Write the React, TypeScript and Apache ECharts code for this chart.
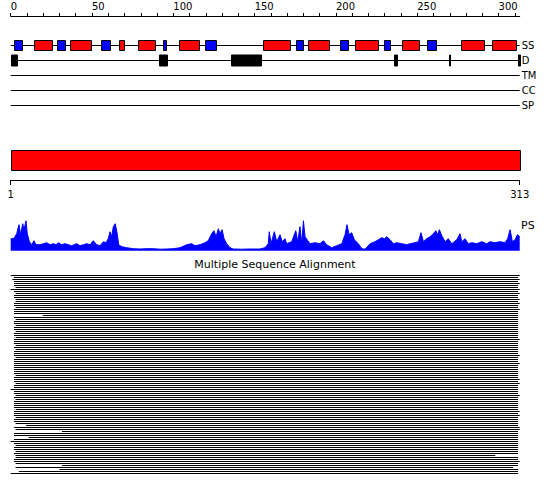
import React, { useEffect, useRef } from 'react';
import * as echarts from 'echarts';

const SEQ_LEN = 313;
const rulerTicks = [0, 10, 20, 30, 40, 50, 60, 70, 80, 90, 100, 110, 120, 130, 140, 150, 160, 170, 180, 190, 200, 210, 220, 230, 240, 250, 260, 270, 280, 290, 300, 310];
const rulerLabels = [0, 50, 100, 150, 200, 250, 300];
const rangeTicks = [1, 313];
const trackNames = ['SS', 'D', 'TM', 'CC', 'SP'];

// secondary structure (residue ranges)
const helices = [[14.5, 25.6], [36.7, 49.6], [66.8, 69.9], [78.5, 88.9], [103.5, 116], [155, 172], [183, 196], [212, 226], [240.8, 251], [277, 291.3], [296.2, 310.7]];
const strands = [[2, 7], [28.7, 33.6], [55.7, 60.9], [93.9, 95.7], [119.5, 126], [175.6, 180], [202.7, 207.3], [229.4, 233.1], [256.2, 261.4]];
// disordered regions
const disordered = [[0, 3.7], [91.4, 96], [135.5, 153.8], [236, 237.8], [269.3, 269.6], [312, 313.3]];
// domain bar
const domains = [[1, 313]];

// PS profile [residue, score]
const psProfile = [
  [0, 12], [1.6, 12], [2.6, 14], [3.7, 17], [5.1, 26], [6.1, 16], [7.4, 27], [8.2, 21], [9.4, 30], [10.2, 17], [11.5, 9], [12.9, 6], [14.3, 10], [15.6, 6], [18, 6], [20, 7], [22.1, 8], [24.2, 6], [26.2, 7], [27.9, 6], [29.3, 8], [31.4, 6], [33.4, 7], [35.4, 6], [37.5, 5], [40.6, 7], [42.6, 5], [44.7, 6], [46.7, 7], [48.8, 6], [50.8, 10], [52.9, 6], [54.9, 5], [57, 9], [58.6, 8], [60, 12], [61.1, 19], [62.1, 14], [63.1, 24], [64.3, 27], [65.6, 16], [66.4, 6], [68.3, 4], [71.3, 3], [75.4, 2], [79.5, 1.7], [83, 2], [87.7, 2], [92, 1.5], [95.9, 1.7], [100, 2], [104.1, 3], [108.2, 6], [111.3, 7], [113.3, 5], [116.4, 6], [119.5, 8], [121.5, 10], [123.6, 17], [125, 20], [126.3, 14], [127.7, 22], [128.7, 17], [130, 21], [131.2, 12], [132.8, 7], [134.9, 3], [136.9, 1.7], [142, 1.5], [147.2, 1.7], [153.3, 1.7], [156.4, 3], [158.4, 7], [159, 19], [160.1, 7], [162.1, 19], [163.6, 9], [165.6, 16], [167, 9], [168.7, 12], [169.7, 7], [171.2, 8], [172.8, 9], [175.3, 20], [176.5, 9], [177.9, 24], [179, 7], [180, 30], [181, 14], [182.7, 10], [184.1, 7], [187.1, 8], [190.2, 7], [192.3, 10], [194.3, 6], [197.4, 3], [200.5, 5], [203.6, 7], [205.6, 16], [206.8, 26], [208.1, 16], [209.7, 18], [211.3, 11], [213.8, 7], [215.9, 2], [217.9, 1.5], [221, 7], [224, 9], [226.1, 11], [228.2, 13], [229.8, 12], [231.2, 14], [233.3, 11], [235.3, 7], [237.4, 8], [240.5, 7], [243.5, 6], [245.6, 7], [248.6, 8], [250.7, 9], [252.3, 18], [253.8, 9], [255.8, 12], [257.9, 14], [259.9, 17], [261.4, 20], [262.6, 16], [263.6, 21], [265.1, 15], [267.1, 9], [269.1, 12], [271.2, 7], [274.3, 11], [276.3, 17], [277.4, 9], [279.4, 12], [281.4, 7], [283.5, 8], [286.6, 7], [289.7, 9], [292.7, 7], [294.8, 9], [297.8, 8], [300.9, 9], [304, 8], [305.6, 12], [307.1, 21], [308.5, 9], [310.2, 11], [311.6, 16], [313, 14]
];

// multiple sequence alignment rows: start / end residue
const msaStart = [
  0, 2, 1, 2, 2, 2, 3, 0, 2, 3,
  2, 2, 3, 3, 2, 2, 3, 2, 2, 2,
  19.7, 2, 3, 2, 2, 3, 2, 2, 3, 2,
  2, 3, 2, 2, 2, 3, 2, 3, 2, 2,
  2, 3, 2, 2, 2, 2, 2, 2, 2, 2,
  3, 2, 2, 2, 3, 2, 2, 0, 2, 2,
  3, 2, 3, 2, 2, 2, 2, 3, 2, 2,
  2, 3, 2, 2, 3, 9.5, 2, 3, 31.5, 2,
  2, 11, 2, 0, 2, 3, 2, 2, 3, 2,
  3, 3, 2, 2, 3, 31.5, 3, 30, 5, 0
];
const msaEnd = [
  313, 312, 313, 312, 313, 312, 312, 313, 312, 313,
  312, 312, 313, 312, 313, 312, 312, 313, 312, 312,
  312, 312, 312, 312, 312, 312, 312, 312, 312, 312,
  312, 312, 313, 312, 312, 312, 312, 312, 312, 312,
  313, 312, 312, 312, 313, 312, 312, 312, 312, 312,
  312, 312, 313, 312, 313, 312, 312, 312, 312, 312,
  313, 312, 312, 312, 312, 312, 312, 312, 313, 312,
  313, 312, 312, 312, 312, 312, 313, 313, 312, 312,
  312, 312, 312, 312, 312, 312, 312, 312, 312, 312,
  298, 312, 312, 313, 312, 312, 309, 312, 312, 312
];

const FONT = 'DejaVu Sans';
const L = 10.7;
const W = 509;

function crisp(v: number) {
  return Math.round(v) + 0.5;
}

export default function App() {
  const ref = useRef<HTMLDivElement>(null);

  useEffect(() => {
    if (!ref.current) return;
    const chart = echarts.init(ref.current, null, { renderer: 'svg' });

    const boxRender = (h: number) => (params: any, api: any) => {
      const a = api.coord([api.value(0), api.value(2)]);
      const b = api.coord([api.value(1), api.value(2)]);
      const cy = Math.floor(a[1]) + 0.5;
      const x0 = crisp(a[0]);
      const x1 = Math.max(crisp(b[0]), x0 + 1);
      const kind = api.value(3);
      const fill = kind === 0 ? '#ff0000' : kind === 1 ? '#0000ff' : '#000000';
      return {
        type: 'rect',
        shape: { x: x0, y: cy - h / 2, width: x1 - x0, height: h },
        style: { fill, stroke: '#000', lineWidth: 1 },
      };
    };

    const option: any = {
      animation: false,
      title: {
        text: 'Multiple Sequence Alignment',
        left: 'center',
        top: 259,
        padding: 0,
        textStyle: { fontSize: 11, fontWeight: 'normal', fontFamily: FONT, color: '#000' },
      },
      graphic: [
        {
          type: 'text',
          left: 521,
          top: 219.5,
          style: { text: 'PS', font: '11px "DejaVu Sans"', fill: '#000' },
        },
      ],
      grid: [
        { left: L, width: W, top: 15, height: 1 },
        { left: L, width: W, top: 37.5, height: 75 },
        { left: L, width: W, top: 150, height: 30 },
        { left: L, width: W, top: 220.7, height: 30 },
        { left: L, width: W, top: 275, height: 200 },
      ],
      xAxis: [
        {
          gridIndex: 0, type: 'value', position: 'top', min: 0, max: SEQ_LEN,
          axisLine: { show: true, lineStyle: { color: '#000', width: 1 } },
          axisTick: { show: true, customValues: rulerTicks, length: 3, lineStyle: { color: '#000' } },
          axisLabel: { show: true, customValues: rulerLabels, align: 'left', margin: 4, fontSize: 10, fontFamily: FONT, color: '#000' },
          splitLine: { show: false },
        },
        { gridIndex: 1, type: 'value', min: 0, max: SEQ_LEN, show: false },
        {
          gridIndex: 2, type: 'value', position: 'bottom', min: 1, max: SEQ_LEN,
          axisLine: { show: true, lineStyle: { color: '#000', width: 1 } },
          axisTick: { show: true, customValues: rangeTicks, length: 5, lineStyle: { color: '#000' } },
          axisLabel: { show: true, customValues: rangeTicks, showMinLabel: true, showMaxLabel: true, margin: 9, fontSize: 10, fontFamily: FONT, color: '#000' },
          splitLine: { show: false },
        },
        { gridIndex: 3, type: 'value', min: 0, max: SEQ_LEN, show: false },
        { gridIndex: 4, type: 'value', min: 0, max: SEQ_LEN, show: false },
      ],
      yAxis: [
        { gridIndex: 0, type: 'value', show: false },
        {
          gridIndex: 1, type: 'category', data: trackNames, inverse: true, position: 'right',
          axisLine: { show: false }, axisTick: { show: false }, splitLine: { show: false },
          axisLabel: { margin: 2, fontSize: 10, fontFamily: FONT, color: '#000' },
        },
        { gridIndex: 2, type: 'value', min: 0, max: 3, show: false },
        { gridIndex: 3, type: 'value', min: 0, max: 30, show: false },
        { gridIndex: 4, type: 'value', min: 0, max: 100, inverse: true, show: false },
      ],
      series: [
        {
          type: 'custom',
          name: 'tracks',
          coordinateSystem: 'cartesian2d',
          xAxisIndex: 1, yAxisIndex: 1,
          encode: { x: [0, 1], y: 2 },
          data: trackNames.map((_, i) => [0, SEQ_LEN, i]),
          renderItem: (params: any, api: any) => {
            const a = api.coord([api.value(0), api.value(2)]);
            const b = api.coord([api.value(1), api.value(2)]);
            const y = Math.floor(a[1]) + 0.5;
            return {
              type: 'line',
              shape: { x1: a[0], y1: y, x2: b[0], y2: y },
              style: { stroke: '#000', lineWidth: 1 },
            };
          },
          z: 1,
        },
        {
          type: 'custom',
          name: 'SS',
          coordinateSystem: 'cartesian2d',
          xAxisIndex: 1, yAxisIndex: 1,
          encode: { x: [0, 1], y: 2 },
          data: [
            ...helices.map((h) => [h[0], h[1], 0, 0]),
            ...strands.map((s) => [s[0], s[1], 0, 1]),
          ],
          renderItem: boxRender(10),
          z: 2,
        },
        {
          type: 'custom',
          name: 'D',
          coordinateSystem: 'cartesian2d',
          xAxisIndex: 1, yAxisIndex: 1,
          encode: { x: [0, 1], y: 2 },
          data: disordered.map((d) => [d[0], d[1], 1, 2]),
          renderItem: boxRender(11),
          z: 2,
        },
        {
          type: 'custom',
          name: 'domain',
          coordinateSystem: 'cartesian2d',
          xAxisIndex: 2, yAxisIndex: 2,
          encode: { x: [0, 1] },
          data: domains.map((d) => [d[0], d[1]]),
          renderItem: (params: any, api: any) => {
            const a = api.coord([api.value(0), 3]);
            const b = api.coord([api.value(1), 1]);
            return {
              type: 'rect',
              shape: { x: crisp(a[0]), y: crisp(a[1]), width: Math.round(b[0] - a[0]), height: Math.round(b[1] - a[1]) },
              style: { fill: '#ff0000', stroke: '#000', lineWidth: 1 },
            };
          },
        },
        {
          type: 'line',
          name: 'PS',
          xAxisIndex: 3, yAxisIndex: 3,
          data: psProfile,
          showSymbol: false,
          symbol: 'none',
          lineStyle: { color: '#0000ff', width: 1 },
          areaStyle: { color: '#0000ff', opacity: 1 },
        },
        {
          type: 'custom',
          name: 'MSA',
          coordinateSystem: 'cartesian2d',
          xAxisIndex: 4, yAxisIndex: 4,
          encode: { x: [0, 1], y: 2 },
          data: msaStart.map((s, i) => [s, msaEnd[i], i]),
          renderItem: (params: any, api: any) => {
            const a = api.coord([api.value(0), api.value(2)]);
            const b = api.coord([api.value(1), api.value(2)]);
            return {
              type: 'rect',
              shape: { x: a[0], y: Math.round(a[1]), width: b[0] - a[0], height: 1 },
              style: { fill: '#000' },
            };
          },
        },
      ],
    };

    chart.setOption(option);
    return () => chart.dispose();
  }, []);

  return (
    <div
      ref={ref}
      style={{ position: 'absolute', left: 0, top: 0, width: 550, height: 495, background: '#fff' }}
    />
  );
}
